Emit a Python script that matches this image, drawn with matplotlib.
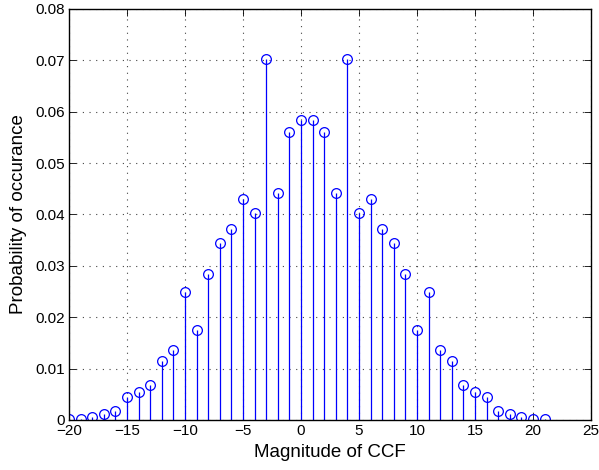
import numpy as np
import matplotlib
matplotlib.use("Agg")
import matplotlib.pyplot as plt

# magnitude of CCF vs probability
magnitude = list(range(-20, 22))
prob = [0.0002, 0.0002, 0.0005, 0.0011, 0.0018, 0.0045, 0.0055, 0.0069, 0.0115, 0.0136,
        0.0250, 0.0175, 0.0285, 0.0344, 0.0372, 0.0430, 0.0402, 0.0702, 0.0441, 0.0560,
        0.0584, 0.0584, 0.0560, 0.0441, 0.0702, 0.0402, 0.0430, 0.0372, 0.0344, 0.0285,
        0.0175, 0.0250, 0.0136, 0.0115, 0.0069, 0.0055, 0.0045, 0.0018, 0.0011, 0.0005,
        0.0002, 0.0002]

plt.rcParams['font.family'] = ['Liberation Sans', 'DejaVu Sans']

fig = plt.figure(figsize=(5.99, 4.70), dpi=100)
ax = fig.add_axes([0.1152, 0.1064, 0.8715, 0.8745])

markerline, stemlines, baseline = ax.stem(magnitude, prob, linefmt='b-', markerfmt='bo', basefmt=' ')
plt.setp(stemlines, linewidth=0.9, color='b')
plt.setp(markerline, markersize=7, markerfacecolor='none', markeredgecolor='b', markeredgewidth=0.9)

ax.set_xlim(-20, 25)
ax.set_ylim(0, 0.08)
ax.set_xticks(range(-20, 26, 5))
ax.set_yticks(np.arange(0, 0.0801, 0.01))
ax.set_yticklabels(['0', '0.01', '0.02', '0.03', '0.04', '0.05', '0.06', '0.07', '0.08'])
ax.set_xticklabels([str(t).replace('-', '\u2212') for t in range(-20, 26, 5)])
ax.grid(True, linestyle=(0, (1, 5)), color='#444444', linewidth=0.8)
ax.tick_params(direction='in', top=True, right=True, length=5, labelsize=11, width=0.6, pad=3)
for s in ax.spines.values():
    s.set_linewidth(1.0)
ax.set_xlabel('Magnitude of CCF', fontsize=13.5, labelpad=4)
ax.set_ylabel('Probability of occurance', fontsize=13.5, labelpad=6)

fig.savefig('out.png', dpi=100)
